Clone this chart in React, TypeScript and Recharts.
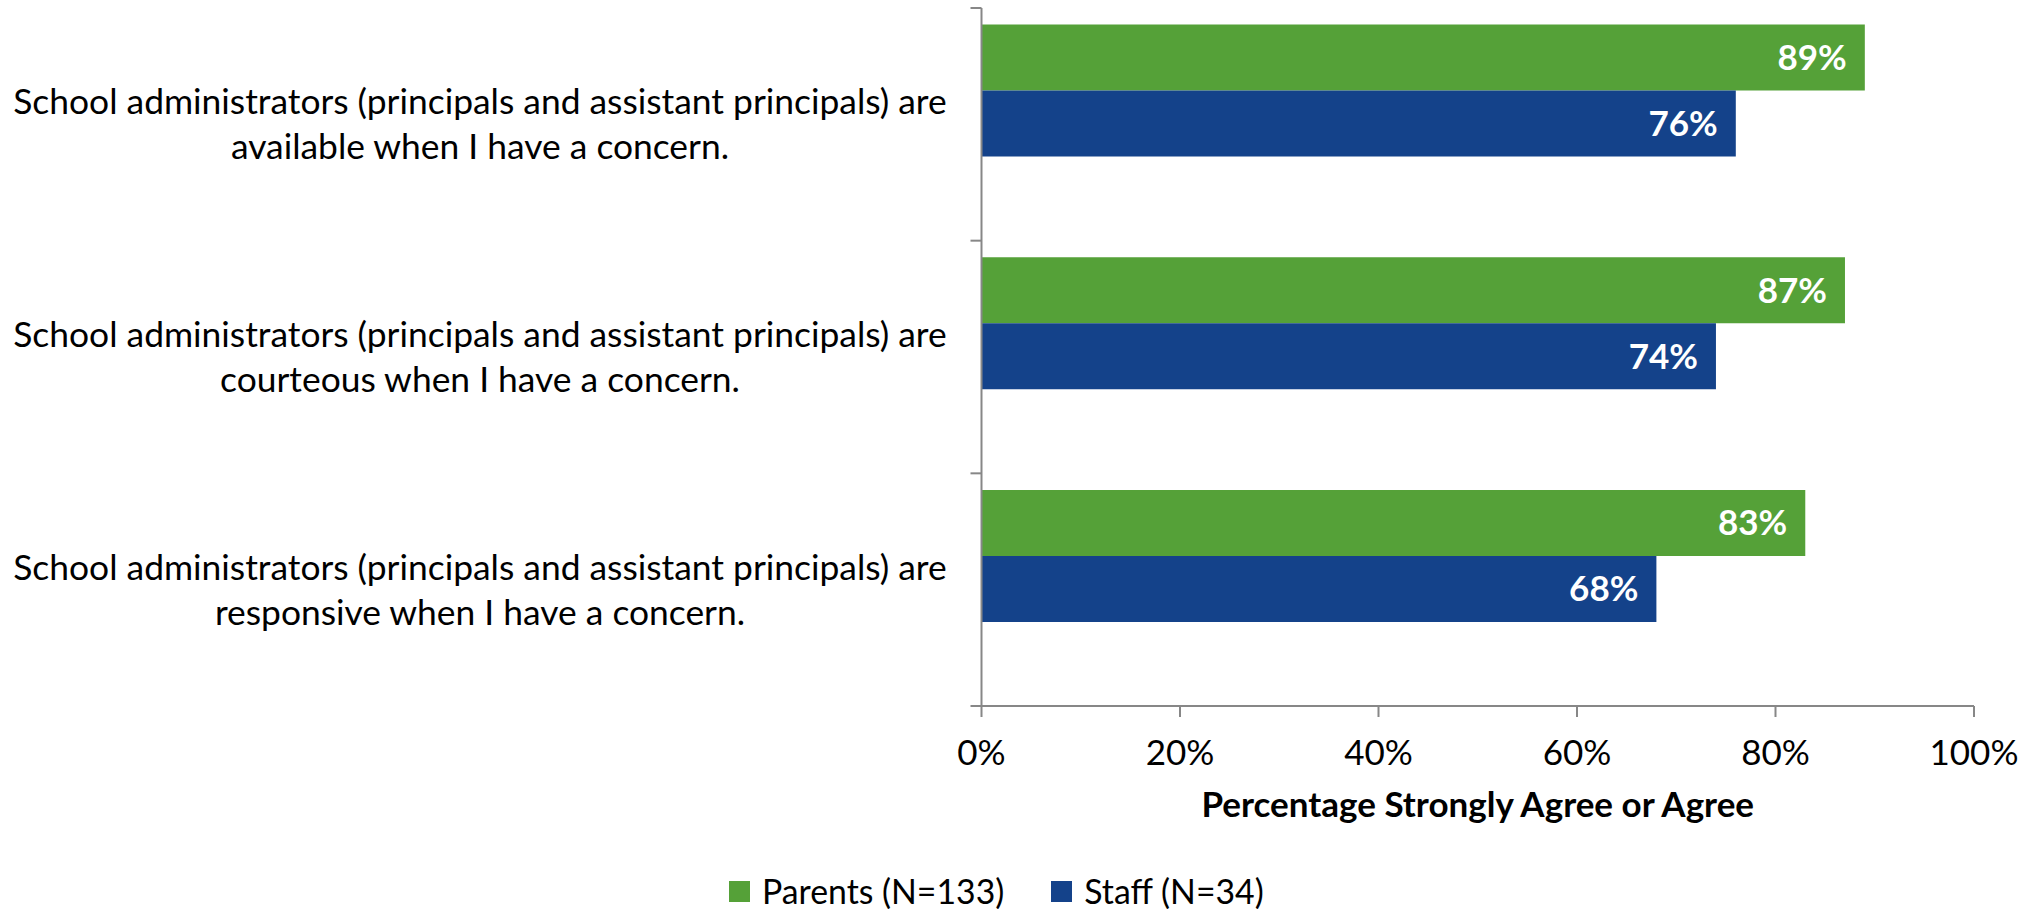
import React from "react";
import { BarChart, Bar, XAxis, YAxis, Legend, LabelList } from "recharts";

const categories = [
  "School administrators (principals and assistant principals) are\navailable when I have a concern.",
  "School administrators (principals and assistant principals) are\ncourteous when I have a concern.",
  "School administrators (principals and assistant principals) are\nresponsive when I have a concern.",
];
const parentsValues = [89, 87, 83];
const staffValues = [76, 74, 68];
const xTicks = [0, 20, 40, 60, 80, 100];
const seriesNames = ["Parents (N=133)", "Staff (N=34)"];
const seriesColors = ["#55A138", "#14428A"];
const xAxisTitle = "Percentage Strongly Agree or Agree";

const data = categories.map((c, i) => ({
  category: c,
  parents: parentsValues[i],
  staff: staffValues[i],
  blank: null as number | null,
}));

const FONT = "Lato, 'Open Sans', sans-serif";
const FS = 35;
const CAT_FS = 35.4;
const LEG_FS = 33.8;
const AXIS = "#878787";
const LABEL_CX = 480;
const TICK_LEN = 11;

const CategoryTick = (props: any) => {
  const { x, y, payload, index, visibleTicksCount } = props;
  const lines = String(payload.value).split("\n");
  const half = typeof payload.offset === "number" && payload.offset > 0 ? payload.offset : 698 / 6;
  const axisX = x;
  const isLast = index === (visibleTicksCount ?? 3) - 1;
  return (
    <g>
      <line x1={axisX - TICK_LEN} x2={axisX} y1={y - half} y2={y - half} stroke={AXIS} strokeWidth={2} />
      {isLast && (
        <line x1={axisX - TICK_LEN} x2={axisX} y1={y + half} y2={y + half} stroke={AXIS} strokeWidth={2} />
      )}
      <text x={LABEL_CX} y={y} textAnchor="middle" fontSize={CAT_FS} fontFamily={FONT} fill="#000">
        {lines.map((l, i) => (
          <tspan key={i} x={LABEL_CX} y={y + (i - (lines.length - 1) / 2) * 45} dy="0.35em">
            {l}
          </tspan>
        ))}
      </text>
    </g>
  );
};

const XTitle = (props: any) => {
  const vb = props.viewBox || {};
  return (
    <text
      x={vb.x + vb.width / 2}
      y={vb.y + 99}
      dy="0.35em"
      textAnchor="middle"
      fontSize={FS}
      fontWeight="bold"
      fontFamily={FONT}
      fill="#000"
    >
      {xAxisTitle}
    </text>
  );
};

const LegendContent = (props: any) => {
  const payload = (props.payload || []).filter((p: any) => p.type !== "none");
  return (
    <div
      style={{
        display: "flex",
        alignItems: "center",
        height: 36,
        paddingLeft: 729,
        fontFamily: FONT,
        fontSize: LEG_FS,
        color: "#000",
        boxSizing: "border-box",
      }}
    >
      {payload.map((p: any, i: number) => (
        <div key={i} style={{ display: "flex", alignItems: "center", marginRight: 47 }}>
          <div style={{ width: 21, height: 21, background: p.color, marginRight: 12 }} />
          <span style={{ lineHeight: "36px" }}>{p.value}</span>
        </div>
      ))}
    </div>
  );
};

export default function App() {
  return (
    <div style={{ position: "absolute", left: 0, top: 0, width: 2036, height: 909, background: "#fff" }}>
      <BarChart
        width={2036}
        height={909}
        data={data}
        layout="vertical"
        margin={{ top: 8, right: 62, bottom: 0, left: 0 }}
        barCategoryGap={16.6}
        barGap={0}
        style={{ fontFamily: FONT }}
      >
        <YAxis
          type="category"
          dataKey="category"
          width={981.5}
          axisLine={{ stroke: AXIS, strokeWidth: 2 }}
          tickLine={false}
          tickSize={0}
          tickMargin={0}
          tick={<CategoryTick />}
          interval={0}
        />
        <XAxis
          type="number"
          domain={[0, 100]}
          ticks={xTicks}
          tickFormatter={(v: number) => `${v}%`}
          tickSize={TICK_LEN}
          tickMargin={23}
          height={167}
          axisLine={{ stroke: AXIS, strokeWidth: 2 }}
          tickLine={{ stroke: AXIS, strokeWidth: 2 }}
          tick={{ fill: "#000", fontSize: FS, fontFamily: FONT }}
          label={<XTitle />}
        />
        <Legend verticalAlign="bottom" layout="horizontal" content={<LegendContent />} />
        <Bar dataKey="parents" name={seriesNames[0]} fill={seriesColors[0]} isAnimationActive={false}>
          <LabelList
            dataKey="parents"
            position="insideRight"
            offset={18}
            formatter={(v: any) => `${v}%`}
            fill="#fff"
            fontSize={FS}
            fontWeight="bold"
            fontFamily={FONT}
          />
        </Bar>
        <Bar dataKey="staff" name={seriesNames[1]} fill={seriesColors[1]} isAnimationActive={false}>
          <LabelList
            dataKey="staff"
            position="insideRight"
            offset={18}
            formatter={(v: any) => `${v}%`}
            fill="#fff"
            fontSize={FS}
            fontWeight="bold"
            fontFamily={FONT}
          />
        </Bar>
        <Bar dataKey="blank" legendType="none" fill="none" isAnimationActive={false} />
      </BarChart>
    </div>
  );
}
